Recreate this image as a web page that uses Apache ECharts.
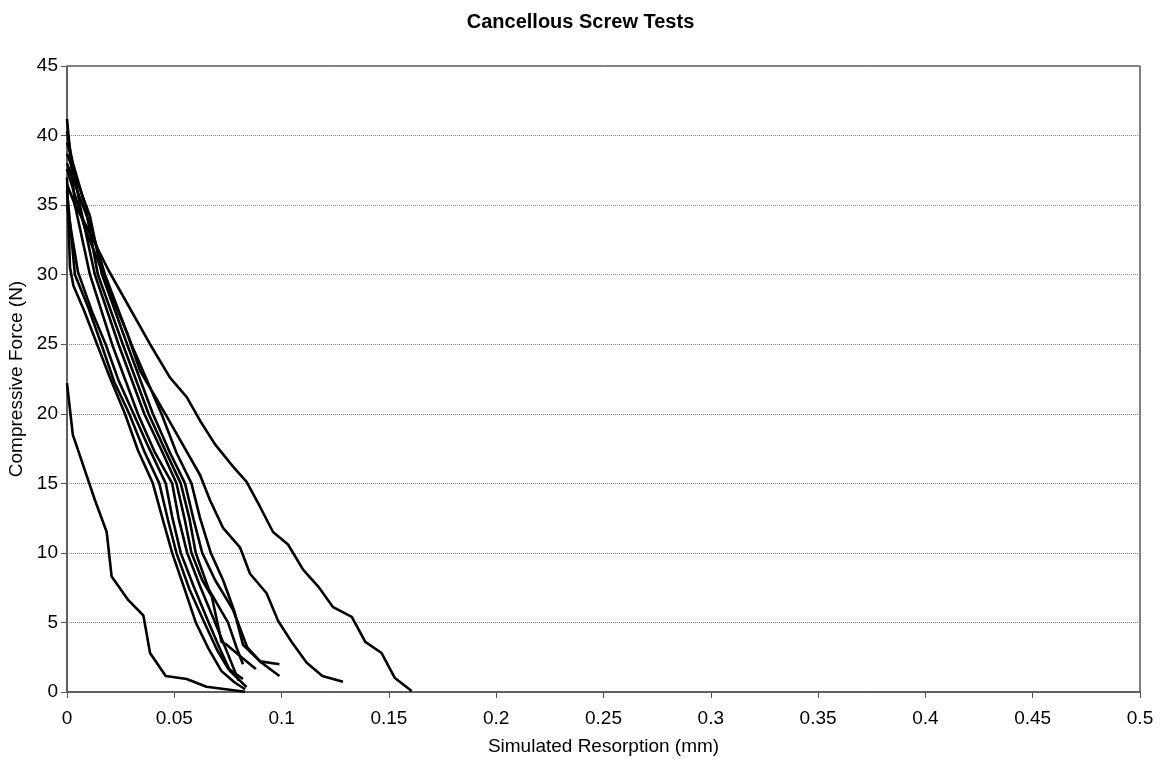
<!DOCTYPE html>
<html>
<head>
<meta charset="utf-8">
<script src="https://cdn.jsdelivr.net/npm/echarts@6/dist/echarts.min.js"></script>
<style>
  html, body { margin: 0; padding: 0; background: #fff; }
  #chart { width: 1161px; height: 759px; }
</style>
</head>
<body>
<div id="chart"></div>
<script>
// tick values
var xTicks = [0, 0.05, 0.1, 0.15, 0.2, 0.25, 0.3, 0.35, 0.4, 0.45, 0.5]
var yTicks = [0, 5, 10, 15, 20, 25, 30, 35, 40, 45]

// one array per test: [resorption mm, force N]
var test1 = [[0, 37], [0.0014, 30.5], [0.003, 29.2], [0.008, 27.4], [0.014, 25], [0.02, 22.6], [0.027, 20], [0.033, 17.4], [0.04, 15], [0.045, 12.2], [0.049, 10], [0.055, 7.3], [0.06, 5], [0.066, 3.1], [0.072, 1.5], [0.078, 0.7], [0.083, 0.2]]
var test2 = [[0, 36], [0.0037, 30], [0.01, 27.6], [0.016, 25], [0.022, 22.3], [0.029, 20], [0.036, 17.3], [0.043, 15], [0.047, 12.4], [0.051, 10], [0.057, 7.4], [0.064, 5], [0.07, 3.0], [0.075, 1.7], [0.082, 0.93]]
var test3 = [[0, 35], [0.0051, 30.2], [0.012, 27.2], [0.018, 25], [0.024, 22.4], [0.031, 20], [0.038, 17.6], [0.046, 15], [0.049, 12.6], [0.053, 10], [0.059, 7.6], [0.066, 5], [0.071, 3.2], [0.076, 1.5], [0.0837, 0.35]]
var test4 = [[0, 41.2], [0.0037, 35], [0.0107, 30], [0.021, 25], [0.033, 20], [0.041, 17.2], [0.049, 15], [0.052, 12.5], [0.056, 10], [0.062, 7.6], [0.069, 5], [0.074, 3.1], [0.08, 0.8]]
var test5 = [[0, 40.3], [0.006, 35], [0.013, 30], [0.024, 25], [0.036, 20], [0.044, 17.4], [0.051, 15], [0.055, 12.3], [0.058, 10], [0.063, 8.05], [0.0675, 6.85], [0.072, 3.6], [0.0744, 3.4], [0.082, 2.4], [0.088, 1.65]]
var test6 = [[0, 39.5], [0.0084, 35], [0.0144, 30], [0.026, 25], [0.038, 20], [0.046, 17.3], [0.053, 15], [0.057, 12.5], [0.06, 10], [0.066, 7.4], [0.075, 5], [0.079, 3.2], [0.082, 2.0]]
var test7 = [[0, 38.7], [0.0107, 34.2], [0.0163, 30], [0.028, 25], [0.04, 20], [0.048, 17.2], [0.055, 15], [0.059, 12.4], [0.063, 10], [0.069, 8.05], [0.0774, 5.9], [0.084, 3.2], [0.09, 2.2], [0.099, 2.0]]
var test8 = [[0, 38], [0.011, 33.5], [0.0177, 30], [0.03, 25], [0.044, 20], [0.051, 17.2], [0.058, 15], [0.062, 12.5], [0.067, 10], [0.0727, 8.05], [0.078, 5.8], [0.082, 3.4], [0.0907, 2.1], [0.099, 1.15]]
var test9 = [[0, 37.6], [0.008, 33.5], [0.017, 30], [0.0215, 28.2], [0.028, 25.8], [0.034, 23.1], [0.042, 21], [0.048, 19.4], [0.055, 17.5], [0.062, 15.6], [0.0666, 13.8], [0.0727, 11.8], [0.0806, 10.4], [0.0853, 8.5], [0.093, 7.1], [0.0984, 5.1], [0.1047, 3.6], [0.1117, 2.1], [0.119, 1.15], [0.1286, 0.74]]
var test10 = [[0, 36.5], [0.004, 34.9], [0.007, 34.1], [0.0194, 30.3], [0.0387, 25], [0.048, 22.6], [0.0558, 21.2], [0.062, 19.5], [0.069, 17.8], [0.0774, 16.2], [0.0837, 15.1], [0.09, 13.3], [0.096, 11.5], [0.103, 10.6], [0.11, 8.8], [0.117, 7.6], [0.124, 6.1], [0.1327, 5.4], [0.139, 3.6], [0.1466, 2.8], [0.1528, 1.0], [0.1606, 0.07]]
var test11 = [[0, 22.2], [0.0027, 18.5], [0.013, 13.8], [0.0185, 11.5], [0.0208, 8.3], [0.0286, 6.6], [0.0356, 5.5], [0.0387, 2.8], [0.046, 1.15], [0.0558, 0.93], [0.065, 0.38], [0.083, 0.02]]

var tests = [test1, test2, test3, test4, test5, test6, test7, test8, test9, test10, test11]

var chart = echarts.init(document.getElementById('chart'))

var series = tests.map(function(d, i) {
  return {
    name: 'Test ' + (i + 1),
    type: 'line',
    data: d,
    symbol: 'none',
    lineStyle: { color: '#000', width: 2.6 },
    z: 3
  }
})

var font = 'Liberation Sans'

var option = {
  animation: false,
  backgroundColor: '#fff',
  title: {
    text: 'Cancellous Screw Tests',
    left: 'center',
    top: 7,
    textStyle: {
      fontFamily: font,
      fontSize: 20,
      fontWeight: 'bold',
      color: '#000'
    }
  },
  grid: {
    left: 67,
    right: 21,
    top: 66,
    bottom: 67,
    outerBoundsMode: 'none',
    containLabel: false,
    show: true,
    borderColor: '#000',
    borderWidth: 1
  },
  xAxis: {
    type: 'value',
    min: xTicks[0],
    max: xTicks[xTicks.length - 1],
    interval: 0.05,
    name: 'Simulated Resorption (mm)',
    nameLocation: 'middle',
    nameGap: 45,
    nameTextStyle: { fontFamily: font, fontSize: 19, color: '#000' },
    axisLine: { show: true, lineStyle: { color: '#555', width: 1.5 } },
    axisTick: { show: true, length: 6, lineStyle: { color: '#555' } },
    axisLabel: {
      fontFamily: font,
      fontSize: 19,
      color: '#000',
      margin: 17,
      formatter: function(v) { return String(+v.toFixed(2)) }
    },
    splitLine: { show: false }
  },
  yAxis: {
    type: 'value',
    min: yTicks[0],
    max: yTicks[yTicks.length - 1],
    interval: 5,
    name: 'Compressive Force (N)',
    nameLocation: 'middle',
    nameGap: 34,
    nameTextStyle: { fontFamily: font, fontSize: 19, color: '#000' },
    axisLine: { show: true, lineStyle: { color: '#555', width: 1.5 } },
    axisTick: { show: true, length: 6, lineStyle: { color: '#555' } },
    axisLabel: { fontFamily: font, fontSize: 19, color: '#000', margin: 9 },
    splitLine: { show: true, lineStyle: { color: '#888', type: 'dotted', width: 1 } }
  },
  series: series
}

chart.setOption(option)
</script>
</body>
</html>
